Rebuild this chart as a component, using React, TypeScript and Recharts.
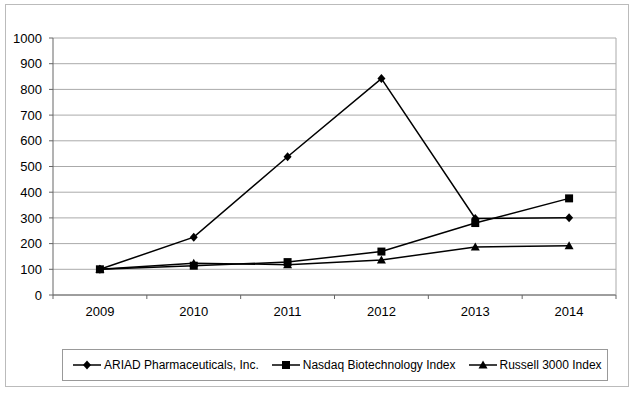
import React from 'react';
import {
  LineChart,
  Line,
  XAxis,
  YAxis,
  CartesianGrid,
  Legend,
} from 'recharts';

// Cumulative total return, indexed to 100 in 2009
const YEARS = ['2009', '2010', '2011', '2012', '2013', '2014'];
const ARIAD = [100, 225, 538, 842, 298, 301];
const NASDAQ_BIO = [100, 114, 128, 169, 280, 376];
const RUSSELL_3000 = [100, 124, 118, 136, 187, 192];
const Y_TICKS = [0, 100, 200, 300, 400, 500, 600, 700, 800, 900, 1000];

const SERIES = [
  { key: 'ariad', name: 'ARIAD Pharmaceuticals, Inc.', marker: 'diamond' },
  { key: 'nasdaq', name: 'Nasdaq Biotechnology Index', marker: 'square' },
  { key: 'russell', name: 'Russell 3000 Index', marker: 'triangle' },
];

const data = YEARS.map((year, i) => ({
  year,
  ariad: ARIAD[i],
  nasdaq: NASDAQ_BIO[i],
  russell: RUSSELL_3000[i],
}));

const W = 635;
const H = 399;
const PLOT_LEFT = 53;
const PLOT_RIGHT = 19;
const HALF_BAND = (W - PLOT_LEFT - PLOT_RIGHT) / YEARS.length / 2;
const FONT = '"Liberation Sans", Arial, sans-serif';

function markerPath(type: string, cx: number, cy: number) {
  if (type === 'diamond') {
    return `M${cx},${cy - 4.5}L${cx + 4},${cy}L${cx},${cy + 4.5}L${cx - 4},${cy}Z`;
  }
  if (type === 'square') {
    return `M${cx - 4},${cy - 4}h8v8h-8Z`;
  }
  return `M${cx},${cy - 4.5}L${cx + 4.5},${cy + 3.5}L${cx - 4.5},${cy + 3.5}Z`;
}

const makeDot = (type: string) => (props: any) => {
  const { cx, cy, index } = props;
  if (cx == null || cy == null) return <g key={index} />;
  return <path key={index} d={markerPath(type, cx, cy)} fill="#000" />;
};

function YearTick(props: any) {
  const { x, y, payload, index } = props;
  const axisY = y - 12;
  return (
    <g>
      {index === 0 && (
        <line x1={x - HALF_BAND} x2={x - HALF_BAND} y1={axisY} y2={axisY + 4} stroke="#666" />
      )}
      <line x1={x + HALF_BAND} x2={x + HALF_BAND} y1={axisY} y2={axisY + 4} stroke="#666" />
      <text x={x} y={y} dy="0.71em" textAnchor="middle" fontSize={13} fill="#000" fontFamily={FONT}>
        {payload.value}
      </text>
    </g>
  );
}

function LegendBox() {
  return (
    <div
      style={{
        border: '1px solid #999',
        height: 32,
        width: 546,
        display: 'flex',
        alignItems: 'center',
        paddingLeft: 10,
        fontFamily: FONT,
        fontSize: 12,
        color: '#000',
        boxSizing: 'border-box',
        whiteSpace: 'nowrap',
      }}
    >
      {SERIES.map((s) => (
        <div key={s.key} style={{ display: 'flex', alignItems: 'center', marginRight: 13, flexShrink: 0 }}>
          <svg width={28} height={10} style={{ marginRight: 3 }}>
            <line x1={0} x2={28} y1={5} y2={5} stroke="#000" strokeWidth={1.5} />
            <path d={markerPath(s.marker, 14, 5)} fill="#000" />
          </svg>
          <span>{s.name}</span>
        </div>
      ))}
    </div>
  );
}

export default function App() {
  return (
    <div style={{ position: 'absolute', left: 0, top: 0, width: W, height: H, background: '#fff' }}>
      <div
        style={{
          position: 'absolute',
          left: 5,
          top: 4,
          width: 624,
          height: 383,
          border: '1px solid #bbb',
          boxSizing: 'border-box',
        }}
      />
      <LineChart
        width={W}
        height={H}
        data={data}
        margin={{ top: 38, right: PLOT_RIGHT - 1, left: 0, bottom: 42 }}
        style={{ position: 'absolute', left: 0, top: 0 }}
      >
        <CartesianGrid vertical={false} stroke="#aaa" />
        <XAxis
          dataKey="year"
          padding={{ left: HALF_BAND, right: HALF_BAND }}
          tick={<YearTick />}
          tickLine={false}
          tickSize={0}
          tickMargin={12}
          axisLine={{ stroke: '#666' }}
          height={30}
          interval={0}
        />
        <YAxis
          domain={[0, 1000]}
          ticks={Y_TICKS}
          width={PLOT_LEFT}
          tickSize={4}
          tickMargin={7}
          tickLine={{ stroke: '#666' }}
          axisLine={{ stroke: '#666' }}
          tick={{ fontSize: 13, fill: '#000', fontFamily: FONT }}
        />
        <YAxis
          yAxisId="frame"
          orientation="right"
          domain={[0, 1000]}
          width={1}
          tick={false}
          tickLine={false}
          axisLine={{ stroke: '#aaa' }}
        />
        <Line dataKey="ariad" name={SERIES[0].name} stroke="#000" strokeWidth={1.5} dot={makeDot('diamond')} isAnimationActive={false} />
        <Line dataKey="nasdaq" name={SERIES[1].name} stroke="#000" strokeWidth={1.5} dot={makeDot('square')} isAnimationActive={false} />
        <Line dataKey="russell" name={SERIES[2].name} stroke="#000" strokeWidth={1.5} dot={makeDot('triangle')} isAnimationActive={false} />
        <Legend
          verticalAlign="bottom"
          content={() => <LegendBox />}
          wrapperStyle={{ left: 62, top: 349, width: 546, height: 32 }}
        />
      </LineChart>
    </div>
  );
}
